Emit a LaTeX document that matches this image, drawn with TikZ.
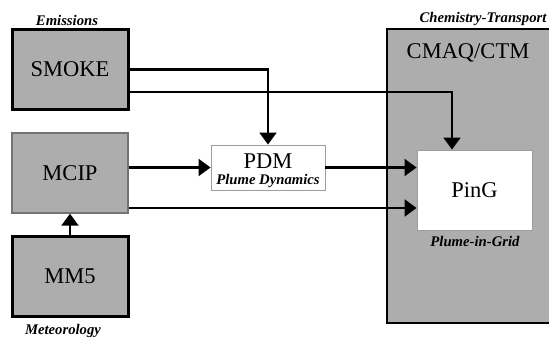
\documentclass[tikz,border=0pt]{standalone}
\usepackage{fontspec}
\setmainfont{Liberation Serif}
\usepackage{tikz}
\usetikzlibrary{positioning,arrows.meta,calc}
\definecolor{boxgray}{gray}{0.68}
\definecolor{rimgray}{gray}{0.45}

\begin{document}
\begin{tikzpicture}[x=1pt,y=-1pt,
  model/.style={draw,fill=boxgray,minimum width=116pt,minimum height=80pt,inner sep=0pt,font=\fontsize{22.5}{27}\selectfont},
  whitebox/.style={draw=rimgray!70,fill=white,line width=0.9pt,inner sep=0pt},
  big/.style={font=\fontsize{22.5}{27}\selectfont},
  tag/.style={font=\fontsize{14.7}{18}\selectfont\bfseries\itshape},
  arr/.style={line width=2.1pt,-{Triangle[length=12pt,width=17pt]}}]
\useasboundingbox (0,0) rectangle (549,337);
\fill[white] (0,0) rectangle (549,337);
\draw[fill=boxgray,line width=2pt] (558,29) -- (387,29) -- (387,323) -- (558,323);
\node[big] (cmaq) at (468,53) {CMAQ/CTM};
\node[tag] (chem) at (483,19) {Chemistry-Transport};
\node[model,line width=3pt] (smoke) at (70,69.5) {SMOKE};
\node[model,draw=rimgray,line width=1.4pt] (mcip) at (70,173) {MCIP};
\node[model,line width=3pt] (mm5) at (70,276.5) {MM5};
\node[tag] (emis) at (67,20) {Emissions};
\node[tag] (meteo) at (63,331) {Meteorology};
\node[whitebox,minimum width=114pt,minimum height=45pt] (pdm) at (268,167.5) {};
\node[big] (pdmname) at (268,161) {PDM};
\node[tag] (pdmsub) at (268,181) {Plume Dynamics};
\node[whitebox,minimum width=115pt,minimum height=80pt,big] (ping) at (474.5,190) {PinG};
\node[tag] (pingsub) at (475,241) {Plume-in-Grid};
\draw[arr] (smoke.east) -| (pdm.north);
\draw[arr] ([yshift=-22.5pt]smoke.east) -| ([xshift=-22.5pt]ping.north);
\draw[arr] (mcip.east |- pdm.west) -- (pdm.west);
\draw[arr] (pdm.east) -- (pdm.east -| ping.west);
\draw[arr] ([yshift=-35pt]mcip.east) -- ([yshift=-35pt]mcip.east -| ping.west);
\draw[arr] (mm5.north) -- (mcip.south);
\end{tikzpicture}
\end{document}
